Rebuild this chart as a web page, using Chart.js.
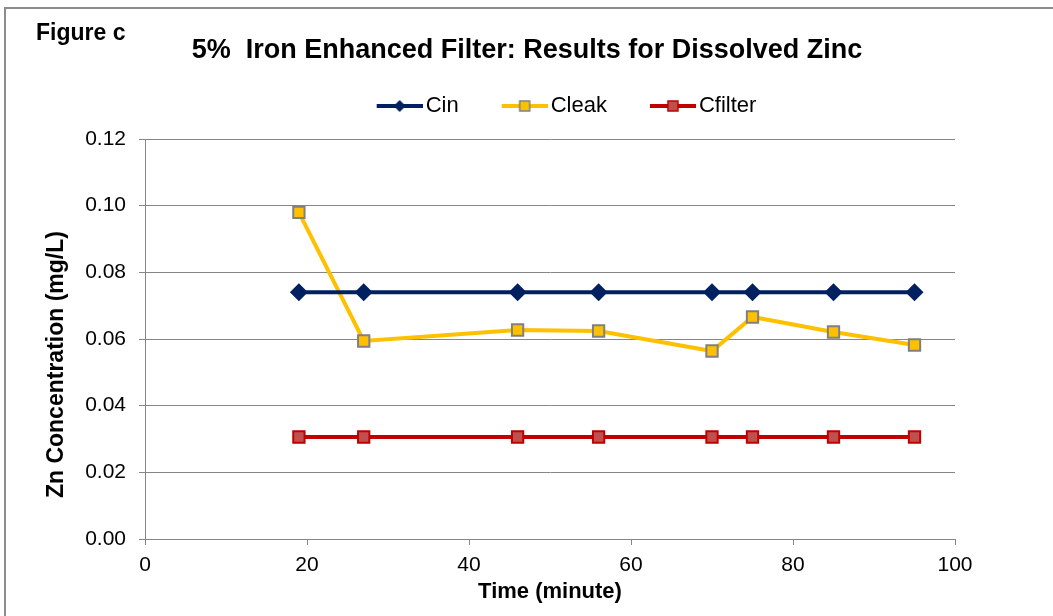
<!DOCTYPE html>
<html>
<head>
<meta charset="utf-8">
<script src="https://cdn.jsdelivr.net/npm/chart.js@4"></script>
<style>
  html, body { margin: 0; padding: 0; background: #fff; }
  #wrap { position: relative; width: 1053px; height: 616px; overflow: hidden; }
  #frame { position: absolute; left: 4px; top: 7px; width: 1100px; height: 640px;
           border: 2px solid #8c8c8c; pointer-events: none; }
</style>
</head>
<body>
<div id="wrap">
  <canvas id="zincChart" width="1053" height="616"></canvas>
  <div id="frame"></div>
</div>
<script>
// time points (minute)
const times = [19, 27, 46, 56, 70, 75, 85, 95];
// Zn concentration (mg/L)
const cin = [0.074, 0.074, 0.074, 0.074, 0.074, 0.074, 0.074, 0.074];
const cleak = [0.098, 0.0594, 0.0627, 0.0624, 0.0564, 0.0666, 0.0621, 0.0582];
const cfilter = [0.0306, 0.0306, 0.0306, 0.0306, 0.0306, 0.0306, 0.0306, 0.0306];
const yTicks = [0, 0.02, 0.04, 0.06, 0.08, 0.10, 0.12];
const xTicks = [0, 20, 40, 60, 80, 100];

const FONT = '"Liberation Sans", Arial, sans-serif';
const toXY = (vals) => vals.map((v, i) => ({x: times[i], y: v}));

// legend picture: line with marker, drawn in the right 46px of the image
const ICON_W = 71;
function legendIcon(lineColor, fill, stroke, shape) {
  const c = document.createElement('canvas');
  c.width = ICON_W + 16; c.height = 20;
  const g = c.getContext('2d');
  const x0 = c.width - 46, mid = x0 + 23;
  g.strokeStyle = lineColor;
  g.lineWidth = 4;
  g.beginPath(); g.moveTo(x0, 10); g.lineTo(x0 + 46, 10); g.stroke();
  g.fillStyle = fill;
  if (shape === 'diamond') {
    g.beginPath();
    g.moveTo(mid, 4); g.lineTo(mid + 6, 10); g.lineTo(mid, 16); g.lineTo(mid - 6, 10);
    g.closePath(); g.fill();
  } else {
    g.fillRect(mid - 5, 5, 10, 10);
    g.strokeStyle = stroke; g.lineWidth = 1.5;
    g.strokeRect(mid - 5, 5, 10, 10);
  }
  return c;
}

const icons = [
  legendIcon('#002060', '#002060', '#002060', 'diamond'),
  legendIcon('#FFC000', '#FFC000', '#808080', 'square'),
  legendIcon('#C00000', '#C0504D', '#C00000', 'square')
];

const textPlugin = {
  id: 'headings',
  afterLayout(chart) {
    // lift the legend a bit above where the layout put it
    chart.legend.top -= 12;
    chart.legend.bottom -= 12;
  },
  afterDraw(chart) {
    const ctx = chart.ctx;
    ctx.save();
    ctx.fillStyle = '#000';
    ctx.textBaseline = 'middle';
    ctx.font = 'bold 23px ' + FONT;
    ctx.textAlign = 'left';
    ctx.fillText('Figure c', 36, 34);
    ctx.font = 'bold 27px ' + FONT;
    ctx.textAlign = 'center';
    ctx.fillText('5%  Iron Enhanced Filter: Results for Dissolved Zinc', 527, 51);
    ctx.restore();
  }
};

const ctx = document.getElementById('zincChart');

const zincChart = new Chart(ctx, {
  type: 'line',
  data: {
    datasets: [
      {
        label: 'Cin',
        data: toXY(cin),
        borderColor: '#002060',
        backgroundColor: '#002060',
        borderWidth: 4,
        pointStyle: 'rectRot',
        pointRadius: 9,
        pointBorderWidth: 0,
        pointBackgroundColor: '#002060'
      },
      {
        label: 'Cleak',
        data: toXY(cleak),
        borderColor: '#FFC000',
        backgroundColor: '#FFC000',
        borderWidth: 4,
        pointStyle: 'rect',
        pointRadius: 8,
        pointBorderWidth: 2,
        pointBorderColor: '#808080',
        pointBackgroundColor: '#FFC000'
      },
      {
        label: 'Cfilter',
        data: toXY(cfilter),
        borderColor: '#C00000',
        backgroundColor: '#C0504D',
        borderWidth: 4,
        pointStyle: 'rect',
        pointRadius: 8,
        pointBorderWidth: 2,
        pointBorderColor: '#C00000',
        pointBackgroundColor: '#C0504D'
      }
    ]
  },
  options: {
    responsive: false,
    animation: false,
    layout: { padding: { left: 0, right: 98, top: 97, bottom: 0 } },
    plugins: {
      title: { display: false },
      tooltip: { enabled: false },
      legend: {
        position: 'top',
        fullSize: false,
        labels: {
          usePointStyle: true,
          pointStyleWidth: ICON_W,
          padding: 10,
          color: '#000',
          font: { family: FONT, size: 22 },
          generateLabels(chart) {
            return chart.data.datasets.map((ds, i) => ({
              text: ds.label,
              pointStyle: icons[i],
              fillStyle: ds.backgroundColor,
              strokeStyle: ds.borderColor,
              lineWidth: 0,
              datasetIndex: i,
              hidden: false
            }));
          }
        }
      }
    },
    scales: {
      x: {
        type: 'linear',
        min: 0,
        max: 100,
        afterBuildTicks(scale) { scale.ticks = xTicks.map(v => ({value: v})); },
        afterFit(scale) { scale.height = 77; },
        grid: { drawOnChartArea: false, color: '#868686', tickLength: 6, tickColor: '#868686' },
        border: { color: '#868686', width: 1 },
        ticks: {
          color: '#000',
          padding: 8,
          font: { family: FONT, size: 21 }
        },
        title: {
          display: true,
          text: 'Time (minute)',
          color: '#000',
          padding: { top: 0, bottom: 11 },
          font: { family: FONT, size: 22, weight: 'bold' }
        }
      },
      y: {
        min: 0,
        max: 0.12,
        afterBuildTicks(scale) { scale.ticks = yTicks.map(v => ({value: v})); },
        afterFit(scale) { scale.width = 145; },
        grid: { color: '#868686', tickLength: 6, tickColor: '#868686' },
        border: { color: '#868686', width: 1 },
        ticks: {
          color: '#000',
          padding: 13,
          font: { family: FONT, size: 21 },
          callback: (v) => v.toFixed(2)
        },
        title: {
          display: true,
          // trailing spaces push the label down the axis, as in the original
          text: 'Zn Concentration (mg/L)        ',
          color: '#000',
          padding: { top: 43, bottom: 0 },
          font: { family: FONT, size: 23, weight: 'bold' }
        }
      }
    }
  },
  plugins: [textPlugin]
});
</script>
</body>
</html>
